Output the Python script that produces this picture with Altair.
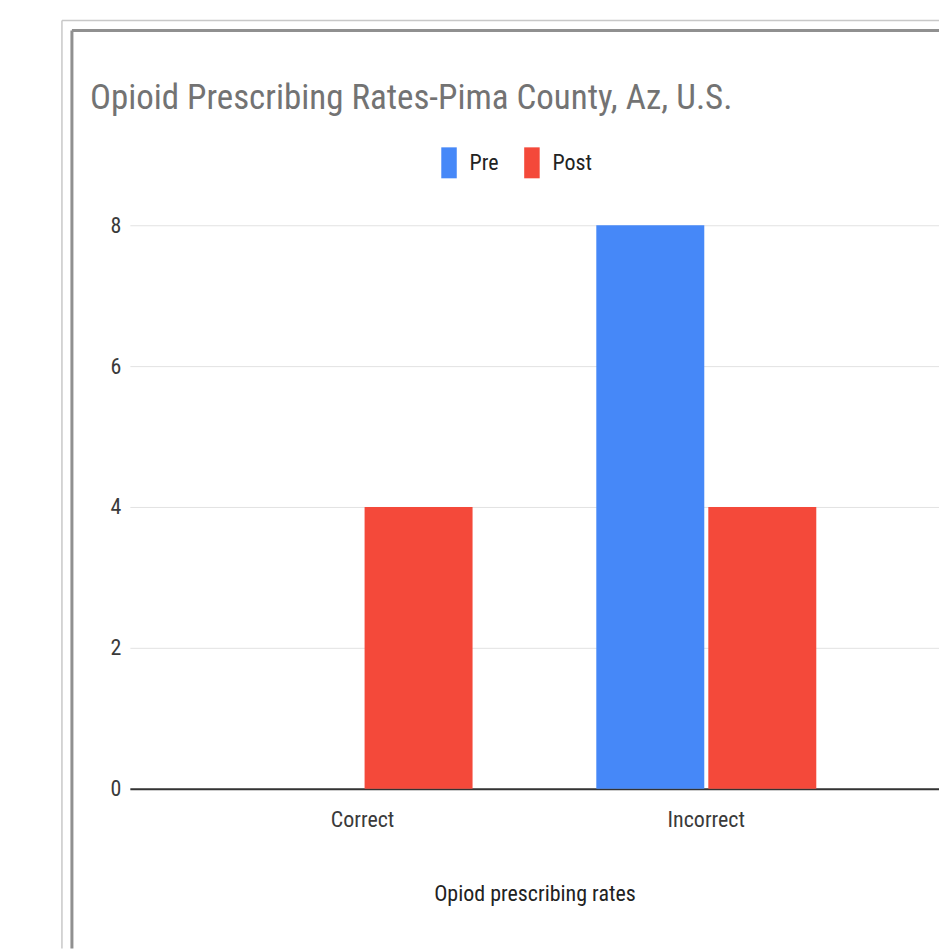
import altair as alt
import pandas as pd

# Prescribing counts by category, before and after
categories = ["Correct", "Incorrect"]
pre_values = [0, 8]
post_values = [4, 4]
series = ["Pre", "Post"]
series_colors = ["#4688F8", "#F4493A"]
y_ticks = [0, 2, 4, 6, 8]

rows = []
for cat, pre, post in zip(categories, pre_values, post_values):
    rows.append({"category": cat, "period": "Pre", "value": pre})
    rows.append({"category": cat, "period": "Post", "value": post})
df = pd.DataFrame(rows)

FONT = "Roboto Condensed, Liberation Sans Narrow, DejaVu Sans Condensed, sans-serif"

bars = alt.Chart(df).mark_bar().encode(
    x=alt.X(
        "category:N",
        sort=categories,
        scale=alt.Scale(paddingInner=0.36, paddingOuter=0.357),
        axis=alt.Axis(
            title="Opiod prescribing rates",
            labelAngle=0,
            ticks=False,
            grid=False,
            domainColor="#333333",
            domainWidth=2,
            labelPadding=21,
            titlePadding=53,
        ),
    ),
    xOffset=alt.XOffset("period:N", sort=series, scale=alt.Scale(paddingInner=0.036)),
    y=alt.Y(
        "value:Q",
        scale=alt.Scale(domain=[0, 8], nice=False),
        axis=alt.Axis(
            title=None,
            values=y_ticks,
            domain=False,
            ticks=False,
            gridColor="#e2e2e2",
            labelPadding=9,
        ),
    ),
    color=alt.Color(
        "period:N",
        sort=series,
        scale=alt.Scale(domain=series, range=series_colors),
        legend=alt.Legend(
            title=None,
            orient="none",
            direction="horizontal",
            legendX=304,
            legendY=-78,
            symbolType="M-0.5,-1H0.5V1H-0.5Z",
            symbolSize=961,
            symbolStrokeWidth=0,
            labelOffset=5,
            columnPadding=17,
        ),
    ),
)

one = pd.DataFrame({"k": [0]})

# Window frame around the chart
outer_left = alt.Chart(one).mark_rule(color="#c8c8c8", strokeWidth=1.5).encode(
    x=alt.value(-68), y=alt.value(-205), y2=alt.value(724)
)
inner_left = alt.Chart(one).mark_rule(color="#909090", strokeWidth=3).encode(
    x=alt.value(-58), y=alt.value(-195), y2=alt.value(724)
)
outer_top = alt.Chart(one).mark_rule(color="#c8c8c8", strokeWidth=1.5).encode(
    x=alt.value(-68), x2=alt.value(812), y=alt.value(-205)
)
inner_top = alt.Chart(one).mark_rule(color="#909090", strokeWidth=3).encode(
    x=alt.value(-58), x2=alt.value(812), y=alt.value(-195)
)

chart = (
    alt.layer(outer_left, inner_left, outer_top, inner_top, bars)
    .properties(
        width=810,
        height=564,
        background="white",
        autosize=alt.AutoSizeParams(type="none"),
        padding={"left": 130, "top": 225, "right": 0, "bottom": 160},
        title=alt.TitleParams(
            "Opioid Prescribing Rates-Pima County, Az, U.S.",
            anchor="start",
            frame="group",
            dx=-40,
            dy=100,
            font=FONT,
            fontSize=35,
            fontWeight="normal",
            color="#737373",
        ),
    )
    .configure_view(stroke=None)
    .configure_axis(
        labelFont=FONT,
        titleFont=FONT,
        labelFontSize=22,
        titleFontSize=22,
        labelColor="#3a3a3a",
        titleColor="#222222",
        titleFontWeight="normal",
    )
    .configure_legend(labelFont=FONT, labelFontSize=22, labelColor="#222222")
)

chart.save("out.html", embed_options={"renderer": "svg", "actions": False})
